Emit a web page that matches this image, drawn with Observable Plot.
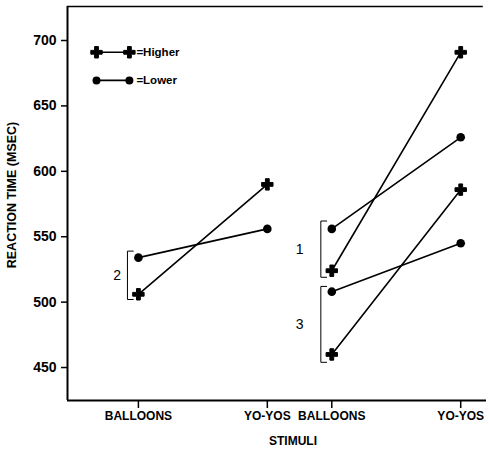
<!DOCTYPE html>
<html>
<head>
<meta charset="utf-8">
<script src="https://cdn.jsdelivr.net/npm/d3@7"></script>
<script src="https://cdn.jsdelivr.net/npm/@observablehq/plot@0.6"></script>
<style>
  html, body { margin: 0; padding: 0; background: #fff; }
  svg { font-family: "Liberation Sans", Arial, sans-serif; }
</style>
</head>
<body>
<div id="chart"></div>
<script>
// ---- data ----
const stimuli = ["BALLOONS", "YO-YOS"];
const groupLabels = ["2", "1", "3"];
const groupXStart = [0, 3, 3];           // x slot of BALLOONS for each group
const higherValues = [[506, 590], [524, 691], [460, 586]];
const lowerValues  = [[534, 556], [556, 626], [508, 545]];
const tickPositions = [0, 2, 3, 5];
const tickLabels = ["BALLOONS", "YO-YOS", "BALLOONS", "YO-YOS"];
const yTicks = [450, 500, 550, 600, 650, 700];
// bracket extents (msec) per group
const bracketLow  = [502, 519, 454];
const bracketHigh = [539, 562, 512];
const legendNames = ["=Higher", "=Lower"];
const legendY = [691, 669.5];

// ---- build tables ----
const rows = [];
groupLabels.forEach((g, i) => {
  stimuli.forEach((s, j) => {
    rows.push({group: g, level: "Higher", x: groupXStart[i] + 2 * j, rt: higherValues[i][j]});
    rows.push({group: g, level: "Lower", x: groupXStart[i] + 2 * j, rt: lowerValues[i][j]});
  });
});
const higher = rows.filter(d => d.level === "Higher");
const lower = rows.filter(d => d.level === "Lower");

const brackets = groupLabels.map((g, i) => ({
  label: g, x: groupXStart[i] - 0.17, x2: groupXStart[i] - 0.08,
  lo: bracketLow[i], hi: bracketHigh[i], lx: groupXStart[i] - (i === 0 ? 0.33 : 0.5)
}));
const bracketPaths = brackets.flatMap(b => [
  [{x: b.x2, y: b.hi, k: b.label}, {x: b.x, y: b.hi, k: b.label}, {x: b.x, y: b.lo, k: b.label}, {x: b.x2, y: b.lo, k: b.label}]
]).flat();

const legend = legendNames.map((n, i) => ({name: n, y: legendY[i], sym: i === 0 ? "cross" : "circle"}));
const legendPts = legend.flatMap(l => [{x: -0.65, y: l.y, sym: l.sym, name: l.name}, {x: -0.14, y: l.y, sym: l.sym, name: l.name}]);

const xDomain = [-1.1, 5.4];
const yDomain = [424.8, 726];

const chart = Plot.plot({
  width: 489,
  height: 449,
  marginLeft: 67,
  marginRight: 3,
  marginTop: 6,
  marginBottom: 49,
  x: {domain: xDomain},
  y: {domain: yDomain},
  style: {fontFamily: "Liberation Sans, Arial, sans-serif", background: "#fff", color: "#000"},
  marks: [
    // frame: left, bottom, top
    Plot.ruleX([xDomain[0]], {stroke: "#000", strokeWidth: 2}),
    Plot.ruleY([yDomain[0]], {stroke: "#000", strokeWidth: 2}),
    Plot.ruleY([yDomain[1]], {x1: xDomain[0], x2: 5.35, stroke: "#000", strokeWidth: 1.5}),
    Plot.axisY({ticks: yTicks, tickSize: 6, tickPadding: 5, fontSize: 14, fontWeight: "bold", label: null, tickFormat: d3.format("d"), strokeWidth: 1.5}),
    Plot.axisX({ticks: tickPositions, tickSize: 8, tickPadding: 3, fontSize: 12, fontWeight: "bold", label: null,
      tickFormat: d => tickLabels[tickPositions.indexOf(d)], strokeWidth: 1.5}),
    // data lines
    Plot.line(rows, {x: "x", y: "rt", z: d => d.group + d.level, stroke: "#000", strokeWidth: 1.6}),
    Plot.dot(higher, {x: "x", y: "rt", symbol: "cross", r: 4.8, fill: "#000", stroke: "#000", strokeWidth: 1}),
    Plot.dot(lower, {x: "x", y: "rt", symbol: "circle", r: 4.3, fill: "#000"}),
    // brackets
    Plot.line(bracketPaths, {x: "x", y: "y", z: "k", stroke: "#000", strokeWidth: 1}),
    Plot.text(brackets, {x: "lx", y: d => (d.lo + d.hi) / 2, text: "label", fontSize: 14, fill: "#000"}),
    // legend
    Plot.line(legendPts, {x: "x", y: "y", z: "name", stroke: "#000", strokeWidth: 1.6}),
    Plot.dot(legendPts.filter(d => d.sym === "cross"), {x: "x", y: "y", symbol: "cross", r: 4.8, fill: "#000", stroke: "#000", strokeWidth: 1}),
    Plot.dot(legendPts.filter(d => d.sym === "circle"), {x: "x", y: "y", symbol: "circle", r: 4, fill: "#000"}),
    Plot.text(legend, {x: -0.14, y: "y", text: "name", dx: 7, textAnchor: "start", fontSize: 11.5, fontWeight: "bold", fill: "#000"})
  ]
});

const svg = d3.select(chart);
svg.append("text")
  .attr("transform", "translate(13,195) rotate(-90)")
  .attr("text-anchor", "middle")
  .attr("dominant-baseline", "middle")
  .attr("font-size", 12.5)
  .attr("font-weight", "bold")
  .text("REACTION TIME (MSEC)");
svg.append("text")
  .attr("x", 293)
  .attr("y", 442)
  .attr("text-anchor", "middle")
  .attr("dominant-baseline", "middle")
  .attr("font-size", 12)
  .attr("font-weight", "bold")
  .text("STIMULI");

document.getElementById("chart").appendChild(chart);
</script>
</body>
</html>
